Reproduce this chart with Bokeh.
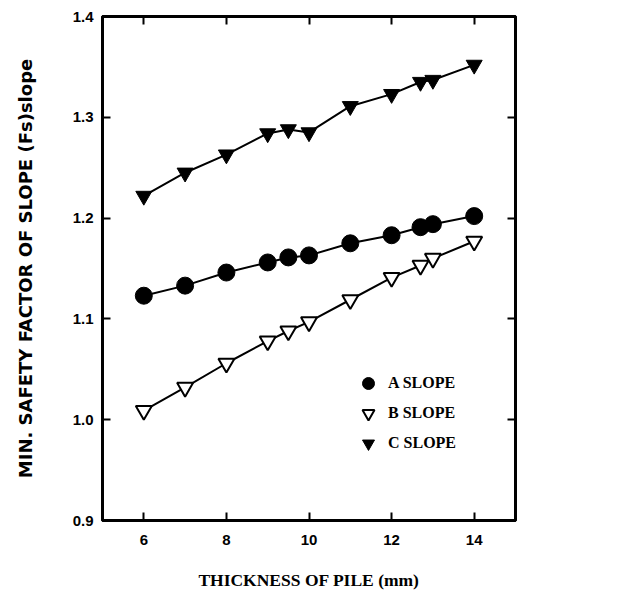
from bokeh.plotting import figure
from bokeh.models import LinearAxis, FixedTicker, Legend, LegendItem, Range1d
from bokeh.embed import file_html
from bokeh.resources import INLINE

thickness = [6, 7, 8, 9, 9.5, 10, 11, 12, 12.7, 13, 14]
a_slope = [1.123, 1.133, 1.146, 1.156, 1.161, 1.163, 1.175, 1.183, 1.191, 1.194, 1.202]
b_slope = [1.009, 1.032, 1.056, 1.078, 1.088, 1.097, 1.119, 1.141, 1.153, 1.160, 1.177]
c_slope = [1.222, 1.245, 1.263, 1.284, 1.288, 1.285, 1.311, 1.323, 1.335, 1.337, 1.352]
x_ticks = [6, 8, 10, 12, 14]
y_ticks = [0.9, 1.0, 1.1, 1.2, 1.3, 1.4]
y_tick_labels = ["0.9", "1.0", "1.1", "1.2", "1.3", "1.4"]

SERIF = "Liberation Serif"
SANS = "Liberation Sans"

p = figure(frame_width=413, frame_height=504, output_backend="svg", toolbar_location=None,
           x_range=Range1d(5, 15), y_range=Range1d(0.9, 1.4),
           min_border_left=102, min_border_top=16, min_border_right=20, min_border_bottom=60,
           background_fill_color="white", border_fill_color="white")
p.grid.visible = False
p.outline_line_color = "black"
p.outline_line_width = 3

def style_axis(ax, labels=True):
    ax.axis_line_color = "black"
    ax.axis_line_width = 3
    ax.major_tick_in = 8
    ax.major_tick_out = 0
    ax.major_tick_line_width = 2
    ax.major_tick_line_color = "black"
    ax.minor_tick_line_color = None
    ax.axis_label_text_color = "black"
    if labels:
        ax.major_label_text_font = SANS
        ax.major_label_text_font_style = "bold"
        ax.major_label_text_font_size = "15px"
        ax.major_label_text_color = "black"
    else:
        ax.major_label_text_font_size = "0px"
        ax.major_label_text_color = None
        ax.major_label_standoff = 0

xb = p.xaxis[0]
xb.ticker = FixedTicker(ticks=x_ticks)
style_axis(xb)
xb.major_label_standoff = 14
xb.axis_label = "THICKNESS OF PILE (mm)"
xb.axis_label_text_font = SERIF
xb.axis_label_text_font_style = "bold"
xb.axis_label_text_font_size = "17.5px"
xb.axis_label_standoff = 22

yl = p.yaxis[0]
yl.ticker = FixedTicker(ticks=y_ticks)
yl.major_label_overrides = {t: s for t, s in zip(y_ticks, y_tick_labels)}
style_axis(yl)
yl.major_label_standoff = 9
yl.axis_label = "MIN. SAFETY FACTOR OF SLOPE (Fs)slope"
yl.axis_label_text_font = "DejaVu Sans"
yl.axis_label_text_font_style = "bold"
yl.axis_label_text_font_size = "18px"
yl.axis_label_standoff = 34

xt = LinearAxis(ticker=FixedTicker(ticks=x_ticks))
style_axis(xt, labels=False)
p.add_layout(xt, "above")
yr = LinearAxis(ticker=FixedTicker(ticks=y_ticks))
style_axis(yr, labels=False)
p.add_layout(yr, "right")

ra_l = p.line(thickness, a_slope, line_color="black", line_width=2)
ra = p.scatter(thickness, a_slope, marker="circle", size=17, fill_color="black", line_color="black")
rb_l = p.line(thickness, b_slope, line_color="black", line_width=2)
rb = p.scatter(thickness, b_slope, marker="inverted_triangle", size=16, fill_color="white",
               line_color="black", line_width=2)
rc_l = p.line(thickness, c_slope, line_color="black", line_width=2)
rc = p.scatter(thickness, c_slope, marker="inverted_triangle", size=16, fill_color="black",
               line_color="black")

legend = Legend(items=[LegendItem(label="A SLOPE", renderers=[ra]),
                       LegendItem(label="B SLOPE", renderers=[rb]),
                       LegendItem(label="C SLOPE", renderers=[rc])],
                location=(251, 62), border_line_color=None, background_fill_alpha=0,
                label_text_font=SERIF, label_text_font_style="bold", label_text_font_size="16px",
                label_text_color="black",
                glyph_width=30, glyph_height=30, spacing=0, padding=0, margin=0,
                label_standoff=5)
p.add_layout(legend, "center")

open("out.html", "w").write(file_html(p, INLINE))
